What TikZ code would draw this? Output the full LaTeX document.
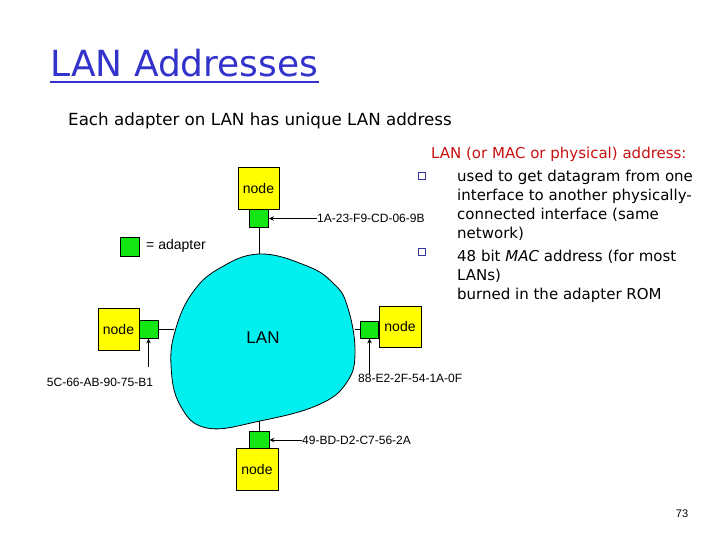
\documentclass[tikz,border=0pt]{standalone}
\usepackage{fontspec}
\setmainfont{Liberation Sans}
\newfontfamily\slidefont{DejaVu Sans}
\usepackage{xcolor}
\usetikzlibrary{arrows.meta, positioning}

\definecolor{titleblue}{RGB}{51,51,204}
\definecolor{headred}{RGB}{200,16,16}
\definecolor{bulletblue}{RGB}{51,51,153}
\definecolor{lancyan}{RGB}{0,240,240}
\definecolor{hostyellow}{RGB}{255,255,0}
\definecolor{adaptgreen}{RGB}{20,230,20}

\begin{document}
\begin{tikzpicture}[
    x=1pt, y=-1pt,
    host/.style={draw, fill=hostyellow, line width=0.8pt, minimum width=41pt, minimum height=42pt, inner sep=0, font=\fontsize{14}{16}\selectfont},
    adapter/.style={draw, fill=adaptgreen, line width=0.8pt, minimum width=19pt, minimum height=18pt, inner sep=0},
    addr/.style={font=\fontsize{12}{14}\selectfont, inner sep=0},
    body/.style={font=\slidefont\fontsize{15}{18.7}\selectfont, align=left, inner sep=0, anchor=base west},
    bullet/.style={draw=bulletblue, line width=0.8pt, minimum size=7pt, inner sep=0},
    arr/.style={-{Stealth[length=5pt, width=4.5pt]}, line width=0.8pt},
    >=Stealth
]
\useasboundingbox (0,0) rectangle (720,540);

% Title
\node[font=\slidefont\fontsize{36}{40}\selectfont, text=titleblue, inner sep=0, anchor=base west] (title) at (50,77) {LAN Addresses};
\draw[titleblue, line width=2pt] ([yshift=-5pt]title.base west) -- ([yshift=-5pt]title.base east);
\node[font=\slidefont\fontsize{16.7}{20}\selectfont, inner sep=0, anchor=base west] (sub) at (68,126) {Each adapter on LAN has unique LAN address};

% LAN cloud
\draw[fill=lancyan, line width=0.8pt] plot[smooth cycle, tension=0.7] coordinates {
  (260,254) (307,266) (333,283) (347,305) (355,350) (347,382) (318,405)
  (260,421) (207,428) (180,405) (171,365) (176,328) (193,292) (220,268)};
\node[font=\fontsize{17}{20}\selectfont] (lan) at (263,338) {LAN};

\coordinate (lan-n) at (259,254);
\coordinate (lan-w) at (174,329);
\coordinate (lan-e) at (355,329.5);
\coordinate (lan-s) at (259,421);

% Top node
\node[host] (ht) at (258.5,188) {node};
\node[adapter] (adt) at (259,218.5) {};
\draw[line width=0.8pt] (adt) -- (lan-n);
\node[addr, anchor=west] (mac-t) at (317,218.5) {1A-23-F9-CD-06-9B};
\draw[arr] (mac-t) -- (adt);

% Legend
\node[adapter, minimum height=19pt] (legend) at (130,246.5) {};
\node[font=\fontsize{14}{16}\selectfont, inner sep=0, anchor=west] (legend-txt) at (146,246) {= adapter};

% Left node
\node[host] (hl) at (118.5,329) {node};
\node[adapter] (adl) at (148.5,329) {};
\draw[line width=0.8pt] (adl) -- (lan-w);
\coordinate (tail-l) at (148.5,367);
\draw[arr] (tail-l) -- (adl);
\node[addr] (mac-l) at (100,382) {5C-66-AB-90-75-B1};

% Right node
\node[host, minimum width=42pt, minimum height=41pt] (hr) at (400,326.5) {node};
\node[adapter, minimum width=18pt, minimum height=17pt] (adr) at (369.5,329.5) {};
\draw[line width=0.8pt] (lan-e) -- (adr);
\coordinate (tail-r) at (369.5,375);
\draw[arr] (tail-r) -- (adr);
\node[addr, anchor=west] (mac-r) at (358,378) {88-E2-2F-54-1A-0F};

% Bottom node
\node[adapter, minimum width=20pt] (adb) at (259,440) {};
\node[host, minimum width=42pt] (hb) at (257,469.5) {node};
\draw[line width=0.8pt] (adb) -- (lan-s);
\node[addr, anchor=west] (mac-b) at (302,440) {49-BD-D2-C7-56-2A};
\draw[arr] (mac-b) -- (adb);

% Right text (base anchor = last line)
\node[body, text=headred] (head) at (431,159) {LAN (or MAC or physical) address:};
\node[bullet] (b1) at (422,176) {};
\node[body] (t1) at (457,238) {used to get datagram from one\\interface to another physically-\\connected interface (same\\network)};
\node[bullet] (b2) at (422,252) {};
\node[body] (t2) at (457,299) {48 bit \textit{MAC} address (for most\\LANs)\\burned in the adapter ROM};

% Page number
\node[font=\fontsize{11}{13}\selectfont] (page) at (682,514) {73};
\end{tikzpicture}
\end{document}
